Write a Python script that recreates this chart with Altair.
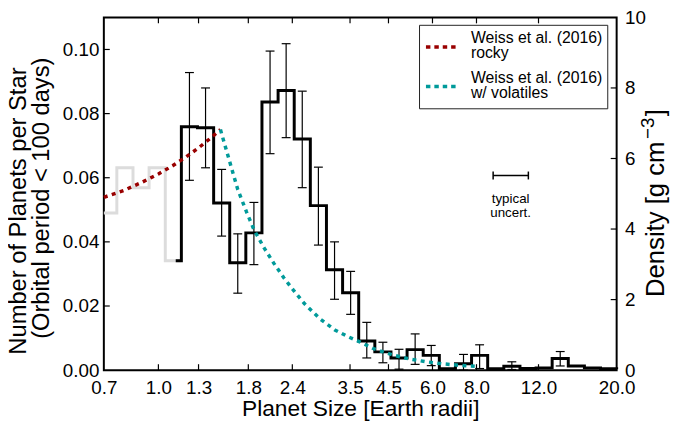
import altair as alt
import pandas as pd

FONT = "Liberation Sans"
W, H = 519, 357

# ---------------- data ----------------
x_ticks = [0.7, 1.0, 1.3, 1.8, 2.4, 3.5, 4.5, 6.0, 8.0, 12.0, 20.0]
count_ticks = [0.00, 0.02, 0.04, 0.06, 0.08, 0.10]
density_ticks = [0, 2, 4, 6, 8, 10]

# gray (below completeness) histogram: bin left edges and values
gray_edges = [0.70, 0.762, 0.847, 0.941, 1.046, 1.162]
gray_counts = [0.0490, 0.0631, 0.0569, 0.0631, 0.0341, 0.0341]

# black histogram: bin left edges and values (last = right end)
black_edges = [1.12, 1.162, 1.291, 1.435, 1.594, 1.771, 1.968, 2.187, 2.430, 2.700,
               3.000, 3.334, 3.704, 4.116, 4.574, 5.082, 5.647, 6.275, 6.972, 7.747,
               8.608, 9.565, 10.63, 11.81, 13.12, 14.58, 16.20, 18.00, 20.00]
black_counts = [0.0341, 0.0759, 0.0756, 0.0521, 0.0335, 0.0428, 0.0836, 0.0872, 0.0721, 0.0513,
                0.0313, 0.0241, 0.0091, 0.0057, 0.0038, 0.0064, 0.0046, 0.0004, 0.0020, 0.0046,
                0.0004, 0.0012, 0.0005, 0.0007, 0.0036, 0.0013, 0.0007, 0.0004, 0.0003]

# error bars
err_R = [1.225, 1.361, 1.512, 1.680, 1.867, 2.075, 2.305, 2.561, 2.846, 3.163,
         3.514, 3.905, 4.339, 4.821, 5.357, 5.952, 7.349, 8.166, 10.08, 13.83]
err_lo = [0.0592, 0.0631, 0.0418, 0.0240, 0.0329, 0.0675, 0.0725, 0.0569, 0.0390, 0.0221,
          0.0174, 0.0038, 0.0023, 0.0003, 0.0018, 0.0014, 0.0000, 0.0005, 0.0002, 0.0013]
err_hi = [0.0928, 0.0880, 0.0626, 0.0425, 0.0523, 0.0995, 0.1018, 0.0870, 0.0633, 0.0400,
          0.0308, 0.0149, 0.0087, 0.0065, 0.0113, 0.0077, 0.0049, 0.0079, 0.0026, 0.0058]

# Weiss et al. (2016) density curves
rocky_R = [0.70, 0.80, 0.90, 1.00, 1.10, 1.20, 1.30, 1.40, 1.50]
rocky_rho = [4.90, 5.10, 5.33, 5.56, 5.80, 6.05, 6.30, 6.56, 6.82]
vol_R = [1.50, 1.60, 1.68, 1.78, 1.87, 2.00, 2.13, 2.27, 2.42, 2.60, 2.88,
         3.17, 3.45, 3.73, 4.10, 4.62, 5.20, 5.73, 6.40, 7.11, 8.00]
vol_rho = [6.82, 5.85, 5.12, 4.48, 3.97, 3.45, 3.02, 2.62, 2.26, 1.88, 1.45,
           1.14, 0.95, 0.80, 0.60, 0.43, 0.31, 0.24, 0.18, 0.14, 0.11]

# typical uncertainty marker
typ_R, typ_lo, typ_hi, typ_N, typ_label_N = 10.0, 8.92, 11.23, 0.0607, 0.0520

legend_labels = ["Weiss et al. (2016)\nrocky", "Weiss et al. (2016)\nw/ volatiles"]
y_title_lines = ["Number of Planets per Star", "(Orbital period < 100 days)"]
r_title_parts = ["Density [g cm", "\u22123", "]"]
RED = "#990000"
TEAL = "#009a9a"

# ---------------- encodings ----------------
xscale = alt.Scale(type="log", domain=[0.7, 20.0])
xaxis = alt.Axis(values=x_ticks, format=".1f", labelFontSize=19, labelFont=FONT,
                 labelColor="black", labelPadding=9, labelFlush=False, labelOverlap=False,
                 ticks=False, domain=False, grid=False,
                 title="Planet Size [Earth radii]", titleFontSize=23, titleFont=FONT,
                 titleFontWeight="normal", titleColor="black", titleBaseline="alphabetic",
                 titleY=46, titleX=W / 2, titleAlign="center")


def X(f):
    return alt.X(f"{f}:Q", scale=xscale, axis=xaxis)


yscale = alt.Scale(domain=[0, 0.11], nice=False, zero=True)
yaxis = alt.Axis(values=count_ticks, format=".2f", labelFontSize=19, labelFont=FONT,
                 labelColor="black", labelPadding=5, labelFlush=False, labelOverlap=False,
                 ticks=False, domain=False, grid=False, title=None)


def Y(f):
    return alt.Y(f"{f}:Q", scale=yscale, axis=yaxis)


rscale = alt.Scale(domain=[0, 10], nice=False)
raxis = alt.Axis(orient="right", values=density_ticks, format="d", labelFontSize=19,
                 labelFont=FONT, labelColor="black", labelPadding=8, labelFlush=False,
                 labelOverlap=False, ticks=False, domain=False, grid=False, title=None)


def R(f):
    return alt.Y(f"{f}:Q", scale=rscale, axis=raxis)


# ---------------- data frames ----------------
gray_df = pd.DataFrame({"R": gray_edges, "N": gray_counts})
black_df = pd.DataFrame({"R": black_edges, "N": black_counts})
err_df = pd.DataFrame({"R": err_R, "lo": err_lo, "hi": err_hi})
rocky_df = pd.DataFrame({"R": rocky_R, "rho": rocky_rho})
vol_df = pd.DataFrame({"R": vol_R, "rho": vol_rho})
typ_df = pd.DataFrame({"R": [typ_R], "lo": [typ_lo], "hi": [typ_hi], "N": [typ_N],
                       "NL": [typ_label_N], "txt": ["typical\nuncert."]})
xt_df = pd.DataFrame({"R": x_ticks[1:-1]})
yt_df = pd.DataFrame({"N": count_ticks[1:]})
rt_df = pd.DataFrame({"rho": density_ticks[1:-1]})
one = pd.DataFrame({"a": [0]})

# ---------------- left (count) layers ----------------
gray = alt.Chart(gray_df).mark_line(interpolate="step-after", color="#dcdcdc",
                                    strokeWidth=3).encode(x=X("R"), y=Y("N"))
black = alt.Chart(black_df).mark_line(interpolate="step-after", color="black",
                                      strokeWidth=3, strokeJoin="miter").encode(x=X("R"), y=Y("N"))
err = alt.Chart(err_df).mark_rule(color="black", strokeWidth=1.2).encode(
    x=X("R"), y=Y("lo"), y2="hi")
cap_lo = alt.Chart(err_df).mark_point(shape="M-1,0L1,0", size=81, stroke="black",
                                      strokeWidth=1.2, filled=False, opacity=1).encode(
    x=X("R"), y=Y("lo"))
cap_hi = alt.Chart(err_df).mark_point(shape="M-1,0L1,0", size=81, stroke="black",
                                      strokeWidth=1.2, filled=False, opacity=1).encode(
    x=X("R"), y=Y("hi"))
typ_bar = alt.Chart(typ_df).mark_rule(color="black", strokeWidth=1.5).encode(
    x=X("lo"), x2="hi", y=Y("N"))
typ_cap1 = alt.Chart(typ_df).mark_point(shape="M0,-1L0,1", size=64, stroke="black",
                                        strokeWidth=1.5, filled=False, opacity=1).encode(
    x=X("lo"), y=Y("N"))
typ_cap2 = alt.Chart(typ_df).mark_point(shape="M0,-1L0,1", size=64, stroke="black",
                                        strokeWidth=1.5, filled=False, opacity=1).encode(
    x=X("hi"), y=Y("N"))
typ_txt = alt.Chart(typ_df).mark_text(font=FONT, fontSize=13.5, lineBreak="\n", lineHeight=14,
                                      align="center", baseline="alphabetic",
                                      color="black").encode(x=X("R"), y=Y("NL"), text="txt:N")
xt_bot = alt.Chart(xt_df).mark_rule(color="black", strokeWidth=1.2).encode(
    x=X("R"), y=alt.value(H), y2=alt.value(H - 6))
xt_top = alt.Chart(xt_df).mark_rule(color="black", strokeWidth=1.2).encode(
    x=X("R"), y=alt.value(0), y2=alt.value(6))
yt_left = alt.Chart(yt_df).mark_rule(color="black", strokeWidth=1.2).encode(
    y=Y("N"), x=alt.value(0), x2=alt.value(6))

# left axis title (two rotated lines)
ytitle1 = alt.Chart(one).mark_text(font=FONT, fontSize=24, angle=270, align="center",
                                   baseline="alphabetic", color="black",
                                   text=y_title_lines[0]).encode(
    x=alt.value(-79), y=alt.value(196))
ytitle2 = alt.Chart(one).mark_text(font=FONT, fontSize=24, angle=270, align="center",
                                   baseline="alphabetic", color="black",
                                   text=y_title_lines[1]).encode(
    x=alt.value(-56), y=alt.value(183))

left = alt.layer(gray, black, err, cap_lo, cap_hi, typ_bar, typ_cap1, typ_cap2, typ_txt,
                 xt_bot, xt_top, yt_left, ytitle1, ytitle2)

# ---------------- right (density) layers ----------------
rocky = alt.Chart(rocky_df).mark_line(color=RED, strokeWidth=3.5, strokeDash=[4, 4.5],
                                      strokeCap="butt").encode(x=X("R"), y=R("rho"))
vol = alt.Chart(vol_df).mark_line(color=TEAL, strokeWidth=3.5, strokeDash=[4, 4.5],
                                  strokeCap="butt").encode(x=X("R"), y=R("rho"))
rt_right = alt.Chart(rt_df).mark_rule(color="black", strokeWidth=1.2).encode(
    y=R("rho"), x=alt.value(W), x2=alt.value(W - 6))

# right axis title built from pieces (superscript unit)
rt1 = alt.Chart(one).mark_text(font=FONT, fontSize=26, angle=270, align="left",
                               baseline="alphabetic", color="black",
                               text=r_title_parts[0]).encode(
    x=alt.value(567), y=alt.value(283))
rt2 = alt.Chart(one).mark_text(font=FONT, fontSize=19, angle=270, align="left",
                               baseline="alphabetic", color="black",
                               text=r_title_parts[1]).encode(
    x=alt.value(557), y=alt.value(123))
rt3 = alt.Chart(one).mark_text(font=FONT, fontSize=26, angle=270, align="left",
                               baseline="alphabetic", color="black",
                               text=r_title_parts[2]).encode(
    x=alt.value(567), y=alt.value(100))

# legend (drawn in pixel space of the plot)
LX0, LX1, LY0, LY1 = 319.5, 510, 8, 92.5
leg_box = alt.Chart(one).mark_rect(fill="white", stroke="#222222", strokeWidth=1).encode(
    x=alt.value(LX0), x2=alt.value(LX1), y=alt.value(LY0), y2=alt.value(LY1))
leg_red = alt.Chart(one).mark_rule(color=RED, strokeWidth=3.5, strokeDash=[4.5, 4]).encode(
    x=alt.value(326), x2=alt.value(359), y=alt.value(30))
leg_teal = alt.Chart(one).mark_rule(color=TEAL, strokeWidth=3.5, strokeDash=[4.5, 4]).encode(
    x=alt.value(326), x2=alt.value(359), y=alt.value(70))
leg_t1 = alt.Chart(one).mark_text(font=FONT, fontSize=16, lineBreak="\n", lineHeight=15.5,
                                  align="left", baseline="alphabetic", color="black",
                                  text=legend_labels[0]).encode(
    x=alt.value(371.5), y=alt.value(25.8))
leg_t2 = alt.Chart(one).mark_text(font=FONT, fontSize=16, lineBreak="\n", lineHeight=15.5,
                                  align="left", baseline="alphabetic", color="black",
                                  text=legend_labels[1]).encode(
    x=alt.value(371.5), y=alt.value(66))

right = alt.layer(rocky, vol, rt_right, rt1, rt2, rt3,
                  leg_box, leg_red, leg_teal, leg_t1, leg_t2)

chart = alt.layer(left, right).resolve_scale(y="independent").properties(
    width=W, height=H,
    padding={"left": 97, "top": 7, "right": 54, "bottom": 52},
    autosize=alt.AutoSizeParams(type="none"),
    background="white",
).configure_view(stroke="black", strokeWidth=2)

chart.save("out.html", embed_options={"renderer": "svg", "actions": False})
